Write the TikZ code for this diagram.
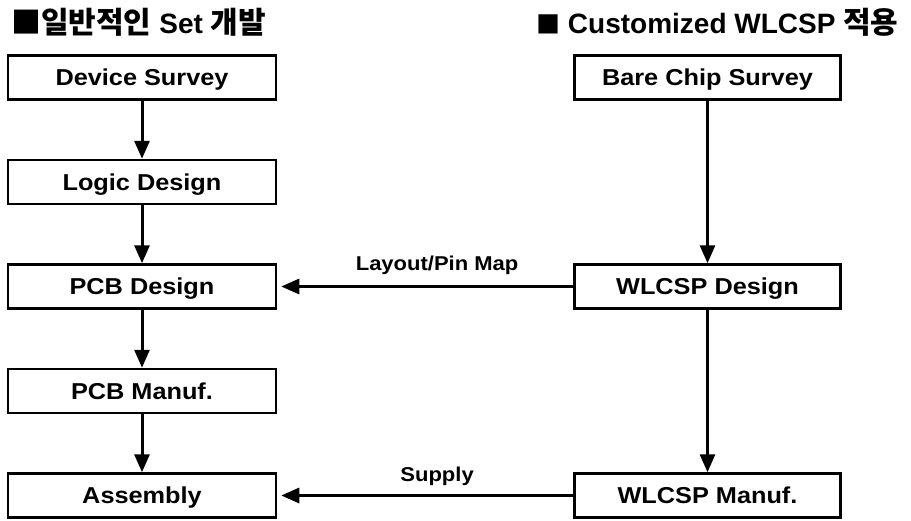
\documentclass[tikz,border=0pt]{standalone}
\usepackage{fontspec}
\setmainfont{Liberation Sans}
\newfontfamily\boxfont{Liberation Sans}[FakeStretch=1.1]
\newfontfamily\krfont{Noto Sans CJK KR}
\usetikzlibrary{arrows.meta, positioning}

\begin{document}
\begin{tikzpicture}[x=1pt, y=-1pt,
    block/.style={rectangle, draw, line width=2.5pt, minimum width=268pt, minimum height=44pt, inner sep=0pt, text height=16.5pt, text depth=0pt, font=\boxfont\fontsize{23}{24}\selectfont\bfseries},
    arrow/.style={-{Triangle[length=18pt,width=15pt]}, line width=3pt},
    head/.style={anchor=west, inner sep=0pt, font=\fontsize{28}{30}\selectfont\bfseries},
    lbl/.style={inner sep=0pt, font=\boxfont\fontsize{20}{20}\selectfont\bfseries}
]
    \useasboundingbox (0,0) rectangle (911,520);

    % Headers
    \node[head] (set_head) at (11,22) {{\krfont\fontsize{30}{30}\selectfont ■일반적인} Set {\krfont\fontsize{30}{30}\selectfont 개발}};
    \node[head] (wlcsp_head) at (536,22) {{\krfont\fontsize{24}{30}\selectfont ■} Customized WLCSP {\krfont\fontsize{30}{30}\selectfont 적용}};

    % Set flow
    \node[block] (device) at (142,77.5) {Device Survey};
    \node[block, below=58pt of device] (logic) {Logic Design};
    \node[block, below=58pt of logic] (pcb_design) {PCB Design};
    \node[block, below=58pt of pcb_design] (pcb_manuf) {PCB Manuf.};
    \node[block, below=58pt of pcb_manuf] (assembly) {Assembly};

    % WLCSP flow
    \node[block, minimum width=266pt, right=296pt of device] (bare_chip) {Bare Chip Survey};
    \node[block, minimum width=266pt, right=296pt of pcb_design] (wlcsp_design) {WLCSP Design};
    \node[block, minimum width=266pt, right=296pt of assembly] (wlcsp_manuf) {WLCSP Manuf.};

    % Arrows
    \draw[arrow] (device) -- (logic);
    \draw[arrow] (logic) -- (pcb_design);
    \draw[arrow] (pcb_design) -- (pcb_manuf);
    \draw[arrow] (pcb_manuf) -- (assembly);
    \draw[arrow] (bare_chip) -- (wlcsp_design);
    \draw[arrow] (wlcsp_design) -- (wlcsp_manuf);
    \draw[arrow, shorten >=4pt] (wlcsp_design) -- node[lbl, pos=0.46, above=10pt] {Layout/Pin Map} (pcb_design);
    \draw[arrow, shorten >=4pt] (wlcsp_manuf) -- node[lbl, pos=0.46, above=8pt] {Supply} (assembly);
\end{tikzpicture}
\end{document}
